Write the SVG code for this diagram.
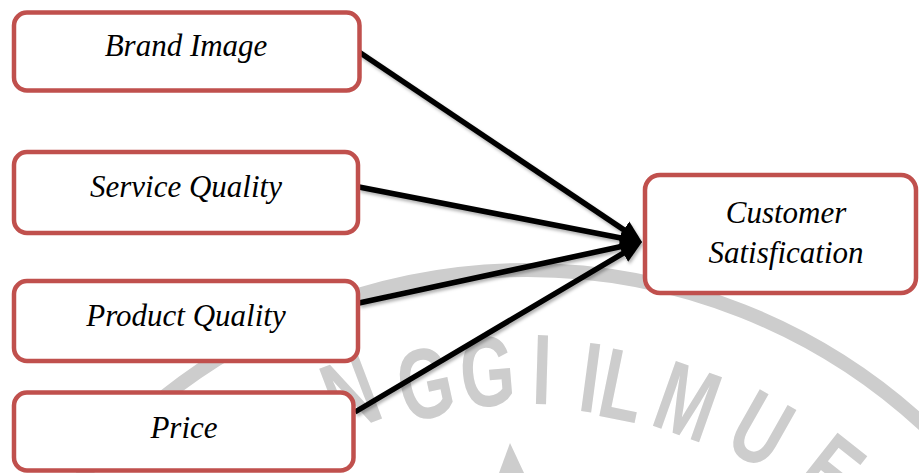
<svg xmlns="http://www.w3.org/2000/svg" width="919" height="473" viewBox="0 0 919 473">
  <style>
    .box { fill: #ffffff; stroke: #c0504d; stroke-width: 4.5; }
    .lbl { font-family: "Liberation Serif", "Times New Roman", serif; font-style: italic; font-size: 31px; fill: #000; text-anchor: middle; }
    .wm { font-family: "Liberation Sans", Arial, sans-serif; font-weight: bold; font-size: 100px; fill: #cdcdcd; text-anchor: middle; }
    .conn { stroke: #000; stroke-width: 5.5; fill: none; marker-end: url(#ah); }
  </style>
  <defs>
    <marker id="ah" viewBox="0 0 22 22" refX="15" refY="11" markerWidth="22" markerHeight="22" markerUnits="userSpaceOnUse" orient="auto">
      <path d="M0,1 L22,11 L0,21 Z" fill="#000"/>
    </marker>
    <filter id="sh" x="-10%" y="-10%" width="120%" height="130%">
      <feDropShadow dx="1.5" dy="2.5" stdDeviation="1.5" flood-color="#000" flood-opacity="0.3"/>
    </filter>
  </defs>

  <rect width="919" height="473" fill="#ffffff"/>

  <!-- watermark -->
  <g id="watermark">
    <circle cx="527.5" cy="854" r="584" fill="none" stroke="#cdcdcd" stroke-width="14"/>
    <text class="wm" transform="translate(350,392) rotate(-20.8) scale(0.7,1)" y="36">N</text>
    <text class="wm" transform="translate(425,382) rotate(-12.2) scale(0.7,1)" y="36">G</text>
    <text class="wm" transform="translate(487,370) rotate(-4.8) scale(0.7,1)" y="36">G</text>
    <text class="wm" transform="translate(542,368) rotate(1.7) scale(0.7,1)" y="36">I</text>
    <text class="wm" transform="translate(591,376) rotate(7.6) scale(0.7,1)" y="36">I</text>
    <text class="wm" transform="translate(623,384) rotate(11.5) scale(0.7,1)" y="36">L</text>
    <text class="wm" transform="translate(688,400) rotate(19.5) scale(0.7,1)" y="36">M</text>
    <text class="wm" transform="translate(762,428) rotate(29.5) scale(0.7,1)" y="36">U</text>
    <text class="wm" transform="translate(832,470) rotate(38.3) scale(0.7,1)" y="36">E</text>
    <polygon points="510,443 499,473 524,473" fill="#cdcdcd"/>
  </g>

  <!-- connectors -->
  <g id="connectors" filter="url(#sh)">
    <line class="conn" x1="359" y1="52" x2="636.2" y2="238.1"/>
    <line class="conn" x1="359" y1="187" x2="635.1" y2="240.7"/>
    <line class="conn" x1="359" y1="303" x2="635.2" y2="243.5"/>
    <line class="conn" x1="355" y1="412" x2="636.0" y2="245.6"/>
  </g>

  <!-- nodes -->
  <g id="brand-image">
    <rect class="box" x="14" y="12.5" width="345.5" height="78" rx="13"/>
    <text class="lbl" x="186" y="56">Brand Image</text>
  </g>
  <g id="service-quality">
    <rect class="box" x="14" y="152" width="344" height="81" rx="13"/>
    <text class="lbl" x="186" y="197">Service Quality</text>
  </g>
  <g id="product-quality">
    <rect class="box" x="14" y="281" width="344" height="80" rx="13"/>
    <text class="lbl" x="186" y="326">Product Quality</text>
  </g>
  <g id="price">
    <rect class="box" x="14" y="392.5" width="339.5" height="78" rx="13"/>
    <text class="lbl" x="184" y="438">Price</text>
  </g>
  <g id="customer-satisfication">
    <rect class="box" x="645" y="175" width="271" height="118" rx="15"/>
    <text class="lbl" x="786" y="223">Customer</text>
    <text class="lbl" x="786" y="263">Satisfication</text>
  </g>
</svg>
